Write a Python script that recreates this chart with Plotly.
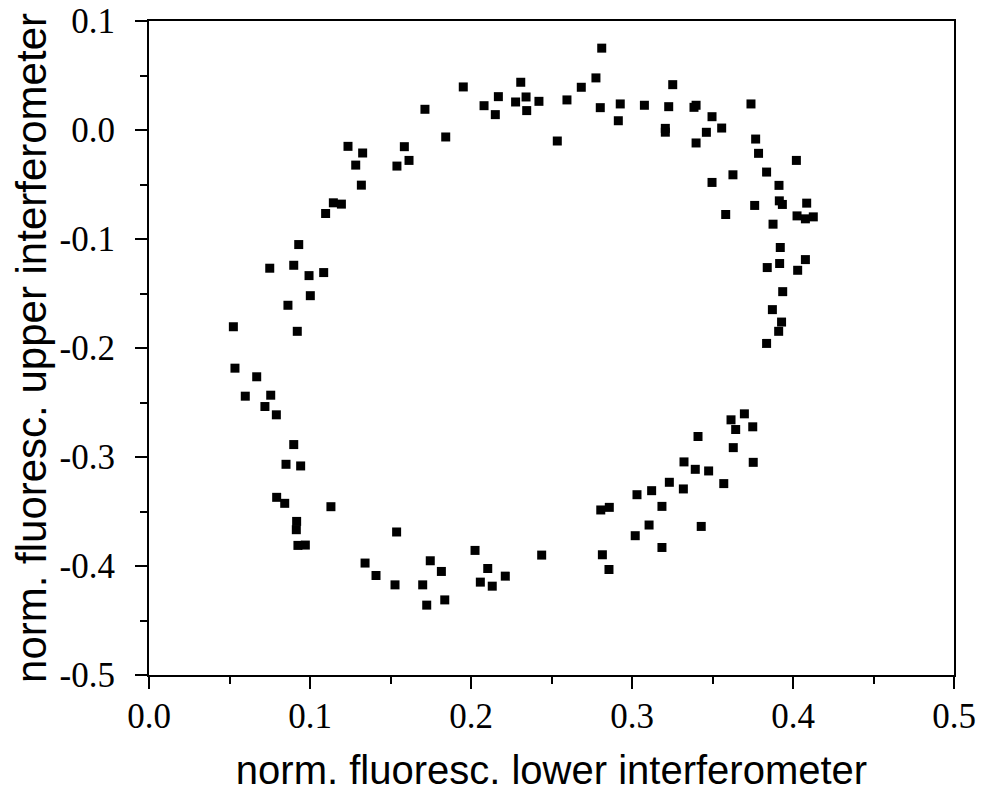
import plotly.graph_objects as go

# Data
x_vals = [
    0.1952, 0.2309, 0.2170, 0.2081, 0.2151, 0.2277, 0.2342, 0.2346, 0.2422, 0.1714,
    0.1843, 0.1236, 0.1327, 0.1284, 0.1319, 0.1586, 0.1615, 0.1540, 0.1145, 0.1195,
    0.1097, 0.0930, 0.0750, 0.0899, 0.0994, 0.1085, 0.1002, 0.0863, 0.0524, 0.0921,
    0.2812, 0.2776, 0.2685, 0.2596, 0.2803, 0.2927, 0.2915, 0.2536, 0.3077, 0.3253,
    0.3228, 0.3207, 0.3207, 0.3385, 0.3398, 0.3497, 0.3462, 0.3557, 0.3398, 0.3739,
    0.3768, 0.3786, 0.4021, 0.3836, 0.3627, 0.3497, 0.3913, 0.3915, 0.3934, 0.4085,
    0.3762, 0.3582, 0.4025, 0.4077, 0.4126, 0.3876, 0.3921, 0.3917, 0.3840, 0.4077,
    0.4029, 0.3936, 0.3872, 0.3929, 0.3911, 0.3836,
    0.0534, 0.0669, 0.0598, 0.0756, 0.0720, 0.0791, 0.0899, 0.0851, 0.0942, 0.0793,
    0.0843, 0.1130, 0.0917, 0.0915, 0.0925, 0.0971, 0.1538, 0.1342, 0.1410, 0.1528,
    0.1700, 0.1747, 0.1816, 0.1725, 0.1837, 0.2025, 0.2104, 0.2058, 0.2132, 0.2213,
    0.2439,
    0.3698, 0.3615, 0.3750, 0.3644, 0.3410, 0.3629, 0.3753, 0.3323, 0.3393, 0.3476,
    0.3570, 0.3232, 0.3319, 0.3031, 0.3122, 0.3186, 0.2806, 0.2859, 0.3106, 0.3020,
    0.3430, 0.3186, 0.2816, 0.2857,
]
y_vals = [
    0.0395, 0.0438, 0.0306, 0.0223, 0.0141, 0.0257, 0.0303, 0.0178, 0.0263, 0.0190,
    -0.0064, -0.0150, -0.0211, -0.0322, -0.0506, -0.0153, -0.0279, -0.0331, -0.0668, -0.0680,
    -0.0766, -0.1051, -0.1268, -0.1241, -0.1336, -0.1308, -0.1520, -0.1608, -0.1805, -0.1847,
    0.0751, 0.0478, 0.0392, 0.0276, 0.0205, 0.0239, 0.0085, -0.0101, 0.0227, 0.0416,
    0.0214, 0.0015, -0.0020, 0.0208, 0.0227, 0.0122, -0.0021, 0.0018, -0.0119, 0.0239,
    -0.0083, -0.0214, -0.0279, -0.0386, -0.0411, -0.0481, -0.0508, -0.0650, -0.0683, -0.0671,
    -0.0692, -0.0775, -0.0788, -0.0815, -0.0797, -0.0864, -0.1078, -0.1225, -0.1262, -0.1189,
    -0.1287, -0.1483, -0.1648, -0.1762, -0.1847, -0.1958,
    -0.2185, -0.2264, -0.2442, -0.2433, -0.2537, -0.2613, -0.2886, -0.3067, -0.3082, -0.3370,
    -0.3425, -0.3456, -0.3591, -0.3667, -0.3811, -0.3808, -0.3688, -0.3973, -0.4087, -0.4173,
    -0.4173, -0.3952, -0.4050, -0.4359, -0.4311, -0.3857, -0.4023, -0.4148, -0.4185, -0.4093,
    -0.3900,
    -0.2604, -0.2659, -0.2723, -0.2748, -0.2812, -0.2914, -0.3049, -0.3045, -0.3113, -0.3128,
    -0.3244, -0.3232, -0.3293, -0.3346, -0.3309, -0.3453, -0.3486, -0.3462, -0.3624, -0.3722,
    -0.3637, -0.3830, -0.3897, -0.4032,
]

x_tick_vals = [0.0, 0.1, 0.2, 0.3, 0.4, 0.5]
x_tick_text = ["0.0", "0.1", "0.2", "0.3", "0.4", "0.5"]
y_tick_vals = [0.1, 0.0, -0.1, -0.2, -0.3, -0.4, -0.5]
y_tick_text = ["0.1", "0.0", "-0.1", "-0.2", "-0.3", "-0.4", "-0.5"]

x_title = "norm. fluoresc. lower interferometer"
y_title = "norm. fluoresc. upper interferometer"

fig = go.Figure()
fig.add_trace(go.Scatter(
    x=x_vals, y=y_vals, mode="markers",
    marker=dict(symbol="square", size=9, color="black", line=dict(width=0)),
    showlegend=False, hoverinfo="skip",
))

tick_font = dict(family="Liberation Serif", size=35, color="black")
x_title_font = dict(family="Liberation Sans", size=40, color="black")
y_title_font = dict(family="Liberation Sans", size=42, color="black")

axis_common = dict(
    showgrid=False, zeroline=False, automargin=False,
    showline=True, linewidth=2, linecolor="black", mirror=True,
    ticks="outside", ticklen=12, tickwidth=2, tickcolor="black",
    tickfont=tick_font, ticklabeloverflow="allow",
    minor=dict(ticks="outside", ticklen=7, tickwidth=2, tickcolor="black", dtick=0.05, showgrid=False),
)

# page body adds an 8px offset; size the figure so the plot lands where the reference has it
fig.update_layout(
    template="none",
    width=984, height=784,
    margin=dict(l=141, r=38, t=13, b=117),
    paper_bgcolor="white", plot_bgcolor="white",
    xaxis=dict(
        range=[0, 0.5], tickmode="array", tickvals=x_tick_vals, ticktext=x_tick_text,
        title=dict(text=x_title, font=x_title_font, standoff=30),
        ticklabelstandoff=-3,
        **axis_common,
    ),
    yaxis=dict(
        range=[-0.5, 0.1], tickmode="array", tickvals=y_tick_vals, ticktext=y_tick_text,
        title=dict(text=y_title, font=y_title_font, standoff=1),
        ticklabelstandoff=13,
        **axis_common,
    ),
)

fig.write_html("out.html")
